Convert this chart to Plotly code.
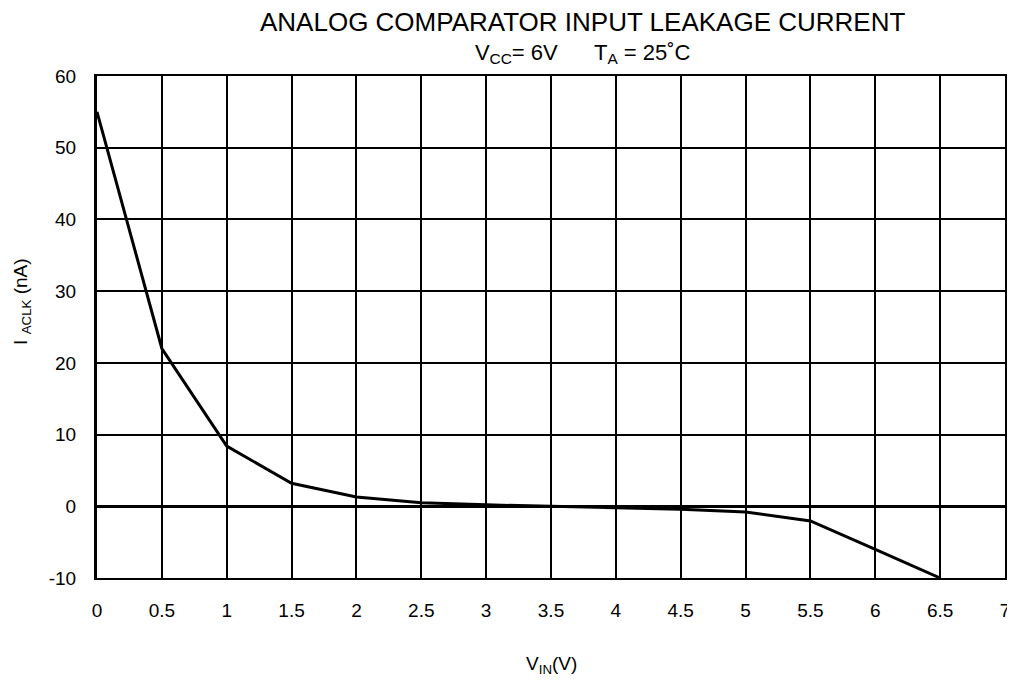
import plotly.graph_objects as go

# lecture des valeurs sur la courbe
v_in = [0, 0.5, 1, 1.5, 2, 2.5, 3, 3.5, 4, 4.5, 5, 5.5, 6, 6.5]
i_aclk = [55, 22, 8.4, 3.2, 1.3, 0.5, 0.2, 0.0, -0.2, -0.4, -0.8, -2.05, -6, -10]

x_ticks = [0, 0.5, 1, 1.5, 2, 2.5, 3, 3.5, 4, 4.5, 5, 5.5, 6, 6.5, 7]
x_labels = ["0", "0.5", "1", "1.5", "2", "2.5", "3", "3.5", "4", "4.5", "5", "5.5", "6", "6.5", "7"]
y_ticks = [-10, 0, 10, 20, 30, 40, 50, 60]
y_labels = ["-10", "0", "10", "20", "30", "40", "50", "60"]

FONT = "Liberation Sans, Arial, sans-serif"

fig = go.Figure()
fig.add_trace(go.Scatter(
    x=v_in, y=i_aclk, mode="lines",
    line=dict(color="black", width=3),
    showlegend=False,
))

# la page ajoute 8px de marge autour de la figure
fig.update_layout(
    width=1007, height=669,
    margin=dict(l=89, r=10, t=68, b=99),
    paper_bgcolor="white", plot_bgcolor="white",
    font=dict(family=FONT, size=19, color="black"),
)

fig.update_xaxes(
    range=[0, 7], tickvals=x_ticks, ticktext=x_labels,
    showgrid=True, gridcolor="black", gridwidth=2,
    showline=True, linecolor="black", linewidth=2, mirror=True,
    ticks="outside", ticklen=14, tickcolor="rgba(0,0,0,0)",
    zeroline=False, automargin=False,
)
fig.update_yaxes(
    range=[-10, 60], tickvals=y_ticks, ticktext=y_labels,
    showgrid=True, gridcolor="black", gridwidth=2,
    showline=True, linecolor="black", linewidth=3, mirror=True,
    ticks="outside", ticklen=14, tickcolor="rgba(0,0,0,0)",
    zeroline=True, zerolinecolor="black", zerolinewidth=3,
    automargin=False,
)

# titre et conditions (une seule annotation sur deux lignes)
titre = "ANALOG COMPARATOR INPUT LEAKAGE CURRENT"
conditions = "V<sub>CC</sub>= 6V      T<sub>A</sub> = 25˚C"
fig.add_annotation(
    text=f"<span style='font-size:26px'>{titre}</span><br>{conditions}",
    xref="paper", yref="paper", x=0.535, y=1, yshift=70,
    showarrow=False, font=dict(size=22), xanchor="center", yanchor="top",
    borderpad=0,
)

# titres des axes
fig.add_annotation(
    text="V<sub>IN</sub>(V)",
    xref="paper", yref="paper", x=0.5, y=0, yshift=-87,
    showarrow=False, font=dict(size=19), xanchor="center", yanchor="middle",
)
fig.add_annotation(
    text="I <sub>ACLK</sub> (nA)",
    xref="paper", yref="paper", x=0, xshift=-75, y=0.55,
    showarrow=False, font=dict(size=19), textangle=-90,
    xanchor="center", yanchor="middle",
)

fig.write_html("out.html")
